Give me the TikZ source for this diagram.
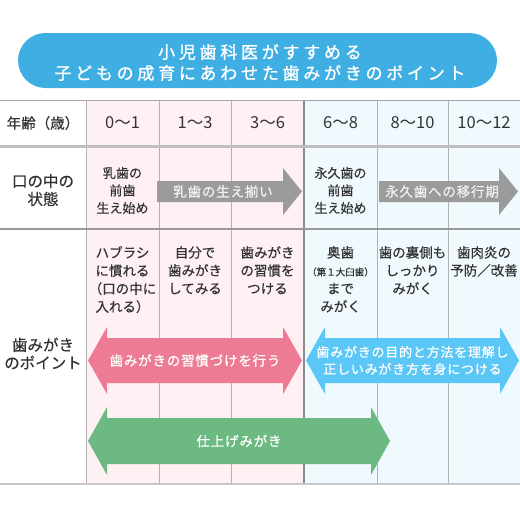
\documentclass[tikz,border=0pt]{standalone}
\usepackage{fontspec}
\setmainfont{Noto Sans CJK JP}
\newfontfamily\titlefont[LetterSpace=22,FakeBold=1.2]{Noto Sans CJK JP}
\newfontfamily\armfont[LetterSpace=6,FakeBold=0.8]{Noto Sans CJK JP}
\newfontfamily\cellfont[FakeBold=0.4]{Noto Sans CJK JP}
\definecolor{titleblue}{HTML}{3FAEE2}
\definecolor{pinkbg}{HTML}{FFF0F4}
\definecolor{bluebg}{HTML}{F0F9FE}
\definecolor{pinkarm}{HTML}{EC7B93}
\definecolor{bluearm}{HTML}{5BC7F6}
\definecolor{greenarm}{HTML}{6CBA81}
\definecolor{grayarm}{HTML}{9B9B9B}
\definecolor{txt}{HTML}{333333}
\newcommand{\dblarrow}[7]{\fill[#6] (#2,#4) -- (#2+19,#4-#5) -- (#2+19,#4-#5+11) -- (#3-19,#4-#5+11) -- (#3-19,#4-#5) -- (#3,#4) -- (#3-19,#4+#5) -- (#3-19,#4+#5-11) -- (#2+19,#4+#5-11) -- (#2+19,#4+#5) -- cycle;
	\node[armtext] (#1) at ({(#2+#3)/2},#4) {#7};}
\newcommand{\grayarrow}[4]{\fill[grayarm] (#2,181) -- (#3-19,181) -- (#3-19,168) -- (#3,191.5) -- (#3-19,215) -- (#3-19,202) -- (#2,202) -- cycle;
	\node[graytext] (#1) at ({(#2+#3-19)/2+3},191.5) {#4};}

\begin{document}
\begin{tikzpicture}[x=1pt,y=-1pt,
	cell/.style={font=\cellfont\fontsize{13.5}{18}\selectfont, text=txt, align=center, inner sep=0},
	headcell/.style={font=\cellfont\fontsize{15.5}{18}\selectfont, text=txt, align=center, inner sep=0},
	agecell/.style={font=\fontsize{16.5}{18}\selectfont, text=txt, inner sep=0},
	titletext/.style={font=\titlefont\fontsize{17}{21}\selectfont, text=white, align=center, inner sep=0},
	armtext/.style={font=\armfont\fontsize{13.5}{17}\selectfont, text=white, align=center, inner sep=0},
	graytext/.style={font=\armfont\fontsize{13.5}{17}\selectfont, text=white!88!gray, inner sep=0},
	vline/.style={draw=black!30, line width=1pt}]
	\useasboundingbox (0,0) rectangle (520,520);
	\fill[titleblue, rounded corners=27.5pt] (18,33) rectangle (497,88);
	\node[titletext] (title) at (260,62.5) {小児歯科医がすすめる\\子どもの成育にあわせた歯みがきのポイント};
	\fill[pinkbg] (86,100) rectangle (304,484);
	\fill[bluebg] (304,100) rectangle (520,484);
	\foreach \x in {86,159,231,377,448}
		\draw[vline] (\x,100) -- (\x,484);
	\draw[black!45, line width=1.3pt] (304,100) -- (304,484);
	\draw[black!35, line width=1pt] (0,100) -- (520,100);
	\draw[black!25, line width=3pt] (0,146) -- (520,146);
	\draw[black!40, line width=1.5pt] (0,229) -- (520,229);
	\draw[black!22, line width=2pt] (0,484) -- (520,484);
	\node[cell, font=\cellfont\fontsize{14.5}{18}\selectfont] (agehead) at (43,123) {年齢（歳）};
	\foreach \x/\a [count=\i] in {122.5/0〜1,195/1〜3,267.5/3〜6,340.5/6〜8,412.5/8〜10,484/10〜12}
		\node[agecell] (age\i) at (\x,123) {\a};
	\node[headcell] (mouthhead) at (43,190) {口の中の\\状態};
	\node[cell, font=\cellfont\fontsize{13}{17.5}\selectfont] (milk) at (122.5,190.5) {乳歯の\\前歯\\生え始め};
	\node[cell, font=\cellfont\fontsize{13}{17.5}\selectfont] (perm) at (340.5,190.5) {永久歯の\\前歯\\生え始め};
	\grayarrow{milkarrow}{157}{302}{乳歯の生え揃い}
	\grayarrow{permarrow}{379}{518}{永久歯への移行期}
	\node[headcell] (pointhead) at (43,353.5) {歯みがき\\のポイント};
	\node[cell, anchor=north] (p1) at (122.5,246) {ハブラシ\\に慣れる\\（口の中に\\入れる）};
	\node[cell, anchor=north] (p2) at (195,246) {自分で\\歯みがき\\してみる};
	\node[cell, anchor=north] (p3) at (267.5,246) {歯みがき\\の習慣を\\つける};
	\node[cell, anchor=north] (p4) at (340.5,246) {奥歯\\{\fontsize{9.5}{18}\selectfont （第１大臼歯）}\\まで\\みがく};
	\node[cell, anchor=north] (p5) at (412.5,246) {歯の裏側も\\しっかり\\みがく};
	\node[cell, anchor=north] (p6) at (484,246) {歯肉炎の\\予防／改善};
	\dblarrow{habit}{88}{302}{360.5}{33.5}{pinkarm}{歯みがきの習慣づけを行う}
	\dblarrow{method}{306}{519}{360.5}{33.5}{bluearm}{\fontsize{13}{17}\selectfont 歯みがきの目的と方法を理解し\\\fontsize{13}{17}\selectfont 正しいみがき方を身につける}
	\dblarrow{finish}{88}{390}{441}{34}{greenarm}{仕上げみがき}
\end{tikzpicture}
\end{document}
